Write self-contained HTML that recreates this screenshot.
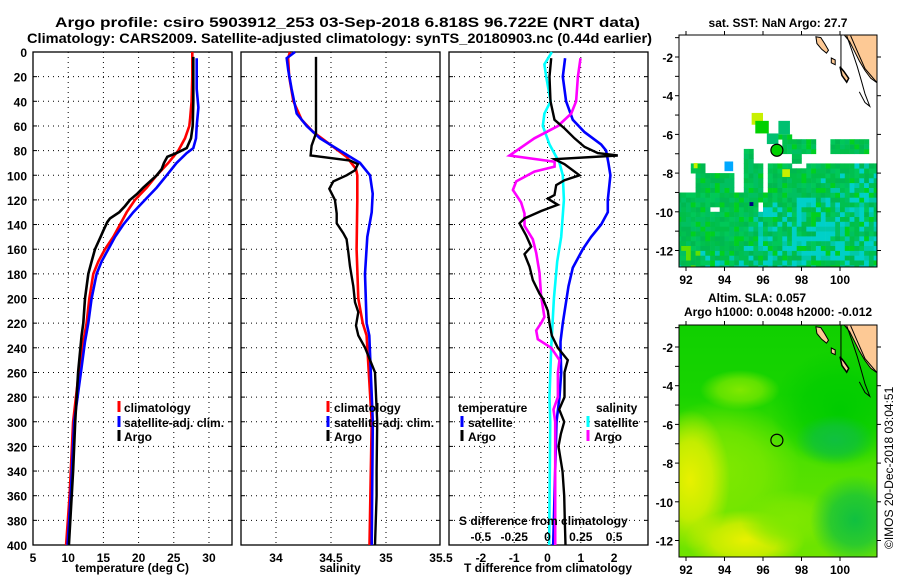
<!DOCTYPE html>
<html><head><meta charset="utf-8"><style>
html,body{margin:0;padding:0;background:#fff;}
svg{display:block;font-family:"Liberation Sans",sans-serif;font-weight:bold;}
</style></head><body>
<svg id="c" width="900" height="580" viewBox="0 0 900 580" xmlns="http://www.w3.org/2000/svg">
<text x="55" y="27" font-size="14" textLength="585" lengthAdjust="spacingAndGlyphs">Argo profile: csiro 5903912_253 03-Sep-2018 6.818S 96.722E (NRT data)</text>
<text x="27" y="43" font-size="14" textLength="625" lengthAdjust="spacingAndGlyphs">Climatology: CARS2009. Satellite-adjusted climatology: synTS_20180903.nc (0.44d earlier)</text>
<text x="778" y="27" font-size="12" text-anchor="middle">sat. SST: NaN Argo: 27.7</text>
<text x="757" y="302" font-size="12" text-anchor="middle">Altim. SLA: 0.057</text>
<text x="778" y="316" font-size="12" text-anchor="middle">Argo h1000: 0.0048 h2000: -0.012</text>
<text transform="translate(893,549) rotate(-90)" font-size="12" font-weight="normal">©IMOS 20-Dec-2018 03:04:51</text>
<g id="plots"></g>
<g id="maps"></g>
</svg>
<script>
// ---------- data ----------
const depthTicks = [0,20,40,60,80,100,120,140,160,180,200,220,240,260,280,300,320,340,360,380,400];
const tempTicks = [5,10,15,20,25,30];
const salTicks = [34,34.5,35,35.5];
const salTickLabels = ["34","34.5","35","35.5"];
const tdiffTicks = [-2,-1,0,1,2];
const sdiffTicks = [-0.5,-0.25,0,0.25,0.5];
const sdiffTickLabels = ["-0.5","-0.25","0","0.25","0.5"];

const tClimDepth = [0,20,40,55,60,70,80,90,100,110,120,130,140,150,160,170,180,200,220,235,260,300,360,400];
const tClimVal   = [27.63,27.63,27.53,27.30,27.21,26.59,25.64,24.22,22.57,21.15,19.49,18.31,17.36,16.41,15.23,14.28,13.57,13.0,12.62,12.15,11.5,10.7,10.2,9.7];
const tSatDepth  = [5,30,45,60,70,78,82,90,100,110,120,130,140,150,160,170,180,200,220,235,260,300,360,400];
const tSatVal    = [28.25,28.25,28.49,28.25,28.16,27.77,26.83,25.40,23.99,22.57,20.91,19.25,17.83,16.65,15.70,14.75,14.04,13.33,12.86,12.39,11.8,10.85,10.35,9.9];
const tArgoDepth = [4,40,60,70,78,82,85,90,95,100,105,110,115,120,125,130,135,138,145,150,160,170,180,200,220,230,260,300,340,360,400];
const tArgoVal   = [27.77,27.77,27.68,27.44,26.83,25.40,24.08,23.61,23.28,22.57,21.62,20.67,19.82,18.78,18.07,17.26,15.94,15.56,14.99,14.61,13.81,13.33,12.86,12.39,12.15,11.91,11.4,11.0,10.7,10.5,10.1];

const sClimDepth = [0,5,20,40,55,65,75,85,95,100,120,160,200,220,230,300,400];
const sClimVal   = [34.127,34.11,34.12,34.158,34.233,34.339,34.491,34.642,34.727,34.739,34.739,34.733,34.748,34.788,34.824,34.87,34.85];
const sSatDepth  = [0,5,15,30,50,60,70,80,90,100,115,130,150,180,220,230,300,400];
const sSatVal    = [34.173,34.097,34.112,34.142,34.188,34.279,34.40,34.582,34.764,34.855,34.879,34.870,34.830,34.809,34.824,34.848,34.88,34.87];
const sArgoDepth = [4,66,76,84,88,91,96,100,105,111,120,131,139,147,152,163,174,190,203,211,222,230,240,260,300,340,360,400];
const sArgoVal   = [34.364,34.364,34.324,34.315,34.673,34.745,34.718,34.642,34.521,34.485,34.536,34.552,34.552,34.612,34.642,34.658,34.673,34.703,34.718,34.748,34.727,34.748,34.81,34.90,34.92,34.915,34.915,34.90];

const dtSatDepth  = [5,20,40,55,65,75,80,90,100,120,130,140,150,160,175,190,220,235,240,260,280,300,400];
const dtSatVal    = [0.53,0.46,0.56,0.76,1.11,1.61,1.76,1.83,1.89,1.81,1.81,1.61,1.31,1.06,0.76,0.63,0.46,0.39,0.39,0.41,0.36,0.27,0.17];
const dtArgoDepth = [5,20,40,55,62,70,77,82,84,87,91,100,104,108,116,119,124,129,135,139,149,158,164,174,185,196,200,210,220,230,240,250,260,280,290,300,310,320,340,360,380,400];
const dtArgoVal   = [0.11,0.06,0.09,0.21,0.51,0.81,1.11,1.51,2.11,0.21,0.51,0.96,0.51,0.26,0.21,0.01,0.31,-0.19,-0.69,-0.84,-0.64,-0.49,-0.69,-0.54,-0.44,-0.24,-0.14,0.01,0.06,0.13,0.31,0.61,0.51,0.51,0.35,0.5,0.4,0.33,0.45,0.5,0.52,0.54];
const dsSatDepth  = [0,10,20,40,50,60,75,90,100,120,150,170,200,240,280,300,400];
const dsSatVal    = [0.033,-0.023,-0.01,0.023,-0.023,-0.035,0.015,0.09,0.115,0.123,0.103,0.073,0.048,0.028,0.015,0.02,0.013];
const dsArgoDepth = [5,20,40,50,60,70,84,89,93,97,105,112,122,131,141,152,163,179,198,215,220,226,233,240,250,260,280,290,300,340,400];
const dsArgoVal   = [0.248,0.228,0.215,0.178,0.078,-0.098,-0.285,0.053,0.053,-0.098,-0.235,-0.26,-0.198,-0.173,-0.173,-0.11,-0.085,-0.06,-0.048,-0.023,-0.048,-0.085,-0.073,0.028,0.09,0.078,0.078,0.045,0.058,0.058,0.058];

const mapLonTicks = [92,94,96,98,100];
const mapLatTicks = [-2,-4,-6,-8,-10,-12];
const argoLon = 96.722, argoLat = -6.818;

// ---------- helpers ----------
const NS = "http://www.w3.org/2000/svg";
function mk(tag, attrs, parent){ const e=document.createElementNS(NS,tag); for(const k in attrs) e.setAttribute(k,attrs[k]); parent.appendChild(e); return e; }
const plots = document.getElementById('plots');
const maps = document.getElementById('maps');
const PY0 = 52, PY1 = 545;
function yD(d){ return PY0 + d*(PY1-PY0)/400; }

function panel(name, x0, x1, vmin, vmax, ticks, labels){
  const g = mk('g',{},plots);
  
  
  const xs = v => x0 + (v-vmin)*(x1-x0)/(vmax-vmin);
  depthTicks.forEach(d=>{ if(d>0&&d<400){ const l=mk('line',{x1:x0,x2:x1,y1:yD(d),y2:yD(d),stroke:'#000','stroke-width':1,'stroke-dasharray':'1 4'},g);
     
    mk('line',{x1:x0,x2:x0+4,y1:yD(d),y2:yD(d),stroke:'#000'},g); mk('line',{x1:x1-4,x2:x1,y1:yD(d),y2:yD(d),stroke:'#000'},g);} });
  ticks.forEach((v,i)=>{ const x=xs(v); if(x>x0+1&&x<x1-1){ const l=mk('line',{x1:x,x2:x,y1:PY0,y2:PY1,stroke:'#000','stroke-width':1,'stroke-dasharray':'1 4'},g);
     }
    const t=mk('text',{x:x,y:562,'font-size':12,'text-anchor':'middle'},g); t.textContent=labels?labels[i]:String(v);
      });
  const r=mk('rect',{x:x0,y:PY0,width:x1-x0,height:PY1-PY0,fill:'none',stroke:'#000','stroke-width':1.3},g);
   
  return {g, xs};
}
function curve(p, depths, vals, color, w, name, scale){
  const pts = depths.map((d,i)=> (p.xs(vals[i]*(scale||1))).toFixed(1)+','+yD(d).toFixed(1)).join(' ');
  const l = mk('polyline',{points:pts,fill:'none',stroke:color,'stroke-width':w,'stroke-linejoin':'miter'},p.g);
  
  
}
function txt(parent,x,y,s,size,anchor,name){ const t=mk('text',{x:x,y:y,'font-size':size||12,'text-anchor':anchor||'start'},parent); t.textContent=s;
    return t; }
function legendMark(parent,x,y,color){ const l=mk('line',{x1:x,x2:x,y1:y-11,y2:y,stroke:color,'stroke-width':3},parent);
    }

depthTicks.forEach(d=>{ txt(plots,27,yD(d)+5,String(d),12,'end','y-tick-label'); });

// Panel 1
const p1 = panel('temperature-panel',33,232,5,33.27,tempTicks);
curve(p1,tClimDepth,tClimVal,'#ff0000',2.6,'temp-climatology-line');
curve(p1,tSatDepth,tSatVal,'#0000ff',2.6,'temp-satellite-line');
curve(p1,tArgoDepth,tArgoVal,'#000000',2.6,'temp-argo-line');
txt(plots,132,572,'temperature (deg C)',12,'middle','temp-axis-title');
legendMark(plots,119,412,'#f00'); txt(plots,124,412,'climatology',12,'start','legend-climatology');
legendMark(plots,119,427,'#00f'); txt(plots,124,427,'satellite-adj. clim.',12,'start','legend-satellite');
legendMark(plots,119,441,'#000'); txt(plots,124,441,'Argo',12,'start','legend-argo');

// Panel 2
const p2 = panel('salinity-panel',241,440,33.682,35.491,salTicks,salTickLabels);
curve(p2,sClimDepth,sClimVal,'#ff0000',2.6,'sal-climatology-line');
curve(p2,sSatDepth,sSatVal,'#0000ff',2.6,'sal-satellite-line');
curve(p2,sArgoDepth,sArgoVal,'#000000',2.4,'sal-argo-line');
txt(plots,340,572,'salinity',12,'middle','sal-axis-title');
legendMark(plots,328,412,'#f00'); txt(plots,334,412,'climatology',12,'start','legend-climatology-2');
legendMark(plots,328,427,'#00f'); txt(plots,334,427,'satellite-adj. clim.',12,'start','legend-satellite-2');
legendMark(plots,328,441,'#000'); txt(plots,334,441,'Argo',12,'start','legend-argo-2');

// Panel 3
const p3 = panel('difference-panel',449,648,-2.958,3.018,tdiffTicks);
curve(p3,dsSatDepth,dsSatVal,'#00ffff',2.6,'sdiff-satellite-line',4);
curve(p3,dtSatDepth,dtSatVal,'#0000ff',2.6,'tdiff-satellite-line');
curve(p3,dsArgoDepth,dsArgoVal,'#ff00ff',2.6,'sdiff-argo-line',4);
curve(p3,dtArgoDepth,dtArgoVal,'#000000',2.4,'tdiff-argo-line');
txt(plots,548,572,'T difference from climatology',12,'middle','tdiff-axis-title');
txt(plots,458,412,'temperature',12,'start','legend-temperature-header');
legendMark(plots,462,427,'#00f'); txt(plots,468,427,'satellite',12,'start','legend-tsat');
legendMark(plots,462,441,'#000'); txt(plots,468,441,'Argo',12,'start','legend-targo');
txt(plots,596,412,'salinity',12,'start','legend-salinity-header');
legendMark(plots,588,427,'#0ff'); txt(plots,594,427,'satellite',12,'start','legend-ssat');
legendMark(plots,588,441,'#f0f'); txt(plots,594,441,'Argo',12,'start','legend-sargo');
txt(plots,459,525,'S difference from climatology',12,'start','sdiff-axis-title');
sdiffTicks.forEach((v,i)=>{ txt(plots,p3.xs(v*4),541,sdiffTickLabels[i],12,'middle','sdiff-tick-label'); });

// ---------- maps ----------
function mapFrame(name,x0,y0,x1,y1,latRefY){
  const g=mk('g',{},maps);
  
  
  const X = lon => 686 + (lon-92)*19.25;
  const Y = lat => latRefY + (-2-lat)*19.35;
  const cp = mk('clipPath',{id:name+'-clip'},g); mk('rect',{x:x0,y:y0,width:x1-x0,height:y1-y0},cp);
  const inner = mk('g',{'clip-path':'url(#'+name+'-clip)'},g);
  return {g,inner,X,Y,x0,y0,x1,y1};
}
function mapAxes(m){
  const g=m.g;
  const r=mk('rect',{x:m.x0,y:m.y0,width:m.x1-m.x0,height:m.y1-m.y0,fill:'none',stroke:'#000','stroke-width':1},g);
   
  mapLonTicks.forEach(l=>{ const x=m.X(l); mk('line',{x1:x,x2:x,y1:m.y0-4,y2:m.y0,stroke:'#000'},g); mk('line',{x1:x,x2:x,y1:m.y1,y2:m.y1+4,stroke:'#000'},g);
    txt(g,x,m.y1+17,String(l),12,'middle','map-lon-label'); });
  mapLatTicks.forEach(l=>{ const y=m.Y(l); mk('line',{x1:m.x0-4,x2:m.x0,y1:y,y2:y,stroke:'#000'},g); mk('line',{x1:m.x1,x2:m.x1+4,y1:y,y2:y,stroke:'#000'},g);
    txt(g,m.x0-6,y+5,String(l),12,'end','map-lat-label'); });
  [-1,-3,-5,-7,-9,-11].forEach(l=>{ const y=m.Y(l); mk('line',{x1:m.x0-4,x2:m.x0,y1:y,y2:y,stroke:'#000'},g); });
}
function coast(m){
  const g=m.inner, X=m.X, Y=m.Y;
  const P = arr => arr.map(p=>X(p[0]).toFixed(1)+','+Y(p[1]).toFixed(1)).join(' ');
  const land = mk('polygon',{points:P([[100.25,0],[100.25,-0.9],[100.5,-1.2],[100.7,-1.6],[101.0,-2.2],[101.3,-2.7],[101.6,-3.1],[101.95,-3.35],[102.5,-3.4],[102.5,0]]),fill:'#fdc995',stroke:'#000','stroke-width':1},g);
   
  const isl = mk('polygon',{points:P([[98.75,-0.95],[99.0,-1.0],[99.2,-1.3],[99.4,-1.65],[99.3,-1.8],[99.05,-1.6],[98.8,-1.3]]),fill:'#fdc995',stroke:'#000','stroke-width':1},g);
   
  mk('polygon',{points:P([[99.55,-2.05],[99.75,-2.15],[99.75,-2.4],[99.55,-2.3]]),fill:'#fdc995',stroke:'#000'},g);
  mk('polygon',{points:P([[100.0,-2.5],[100.2,-2.75],[100.45,-3.1],[100.35,-3.3],[100.1,-2.95]]),fill:'#fdc995',stroke:'#000','stroke-width':1.5},g);
  mk('polyline',{points:P([[100.35,-0.9],[100.6,-1.6],[100.9,-2.5],[101.1,-3.2],[101.3,-3.9],[101.55,-4.55],[101.3,-4.35],[101.0,-3.8]]),fill:'none',stroke:'#000','stroke-width':1},g);
  mk('polyline',{points:P([[100.55,-0.9],[100.9,-1.7],[101.3,-2.6],[101.9,-3.3]]),fill:'none',stroke:'#000','stroke-width':1},g);
  mk('line',{x1:X(100.05),x2:X(100.05),y1:Y(0),y2:Y(-2.6),stroke:'#000','stroke-width':1},g);
}
function hash(i,j){ let h=(i*73856093)^(j*19349663)^((i+j)*83492791); h=(h^(h>>>13))*1274126177; return ((h^(h>>>16))>>>0)%1000; }

// SST map
const m1 = mapFrame('sst-map',679,35,877,267,57);
mk('rect',{x:679,y:35,width:198,height:232,fill:'#fff'},m1.inner);
const blocks = [
 [92.2,92.9,-7.9,-7.48],[92.4,94.5,-8.9,-7.9],[93.4,94.5,-8.0,-7.9],[95.0,96.0,-8.9,-7.48],[96.3,101.95,-8.9,-7.48],
 [95.0,95.6,-7.5,-6.7],[97.05,98.8,-7.05,-6.3],[96.8,97.4,-6.3,-5.95],[99.4,101.4,-7.05,-6.2],[97.4,98.0,-7.5,-7.05],
 [91.6,101.95,-12.9,-8.9]
];
const gaps = [[97.6,98.3,-7.75,-7.48],[94.5,95.0,-8.9,-8.4],[95.7,96.0,-9.9,-9.5],[93.3,93.7,-10.1,-9.75],[101.6,101.95,-7.48,-7.3]];
const cellsG = mk('g',{},m1.inner);


const cs = 0.25;
for(let lon=91.5; lon<102; lon+=cs){ for(let lat=-13; lat<-4; lat+=cs){
  const cl=lon+cs/2, ct=lat+cs/2;
  const inB = blocks.some(b=>cl>=b[0]&&cl<=b[1]&&ct>=b[2]&&ct<=b[3]);
  const inG = gaps.some(b=>cl>=b[0]&&cl<=b[1]&&ct>=b[2]&&ct<=b[3]);
  if(!inB||inG) continue;
  const i=Math.round(lon*4), j=Math.round(lat*4), h=hash(i,j);
  let cyanP = Math.max(0,Math.min(0.5,(cl-96)/10 + (-9.6-ct)/6));
  if(cl>95.8 && cl<98 && ct<-9.3 && ct>-10.6) cyanP = 0.45;
  let col;
  if(h/1000 < cyanP) col = (h%3==0)?'#00c8a8':'#00d0c8';
  else col = ['#00c050','#00b850','#00c858','#00d020','#00c060','#00bf48'][h%6];
  if(cl<93.2 && ct<-11.7 && h%3==0) col='#60e000';
  mk('rect',{x:m1.X(lon).toFixed(1),y:m1.Y(lat+cs).toFixed(1),width:5.1,height:5.2,fill:col},cellsG);
}}
const extra = [[95.41,96.0,-5.5,-4.89,'#c8f000'],[95.6,96.3,-5.95,-5.3,'#00d000'],[96.8,97.4,-6.0,-5.3,'#00c070'],[96.2,96.8,-6.5,-5.95,'#00c070'],
 [94.0,94.45,-7.9,-7.4,'#00a8ff'],[92.4,92.6,-7.75,-7.48,'#c8f000'],[97.0,97.4,-8.2,-7.8,'#c8f000'],[95.3,95.5,-9.7,-9.5,'#000080']];
extra.forEach(e=>{ const r=mk('rect',{x:m1.X(e[0]),y:m1.Y(e[3]),width:(e[1]-e[0])*19.25,height:(e[3]-e[2])*19.35,fill:e[4]},m1.inner);
    });
coast(m1);
const a1=mk('circle',{cx:m1.X(argoLon),cy:m1.Y(argoLat),r:6,fill:'#00d000',stroke:'#000','stroke-width':1.2},m1.g);
 
mapAxes(m1);

// SLA map
const m2 = mapFrame('sla-map',679,325,877,557,347);
const defs = mk('defs',{},m2.g);
function rg(id,c){ const r=mk('radialGradient',{id:id},defs); mk('stop',{offset:'0','stop-color':c,'stop-opacity':1},r); mk('stop',{offset:'0.55','stop-color':c,'stop-opacity':0.7},r); mk('stop',{offset:'1','stop-color':c,'stop-opacity':0},r); }
rg('gy','#e8f000'); rg('gl','#80e800'); rg('gd','#10c040'); rg('gt','#00cc00');
const lg = mk('linearGradient',{id:'slaBase',x1:0,y1:0,x2:0,y2:1},defs);
mk('stop',{offset:'0','stop-color':'#10d000'},lg); mk('stop',{offset:'0.3','stop-color':'#18d400'},lg); mk('stop',{offset:'0.6','stop-color':'#50e000'},lg); mk('stop',{offset:'1','stop-color':'#70e400'},lg);
mk('rect',{x:679,y:325,width:198,height:232,fill:'url(#slaBase)'},m2.inner);
const blobs=[['gt',840,410,70,60],['gl',720,470,80,70],['gy',690,480,40,70],['gy',745,540,60,30],['gl',790,520,50,30],['gd',855,520,45,45],['gd',835,440,40,25],['gl',740,390,40,20]];
blobs.forEach(b=>{ const e=mk('ellipse',{cx:b[1],cy:b[2],rx:b[3],ry:b[4],fill:'url(#'+b[0]+')'},m2.inner);
    });
coast(m2);
const a2=mk('circle',{cx:m2.X(argoLon),cy:m2.Y(argoLat),r:6,fill:'none',stroke:'#000','stroke-width':1.2},m2.g);
 
mapAxes(m2);
</script>
</body></html>
